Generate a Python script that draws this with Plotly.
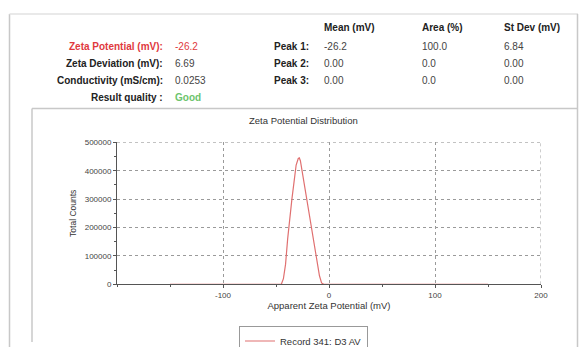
import plotly.graph_objects as go

W, H = 579, 347

# ---- data ----
zeta_mv = [-150, -45, -43, -41, -39, -37, -35, -33, -31, -29, -28, -27, -25, -23,
           -21, -19, -17, -15, -13, -11, -9, -7, -5, 150]
total_counts = [0, 0, 20000, 70000, 160000, 240000, 300000, 360000, 420000, 443000,
                445000, 435000, 390000, 345000, 300000, 260000, 220000, 175000,
                125000, 75000, 30000, 5000, 0, 0]
series_name = "Record 341: D3 AV"

summary_labels = ["Zeta Potential (mV):", "Zeta Deviation (mV):", "Conductivity (mS/cm):", "Result quality :"]
summary_values = ["-26.2", "6.69", "0.0253", "Good"]
peak_labels = ["Peak 1:", "Peak 2:", "Peak 3:"]
peak_columns = ["Mean (mV)", "Area (%)", "St Dev (mV)"]
peak_mean = ["-26.2", "0.00", "0.00"]
peak_area = ["100.0", "0.0", "0.0"]
peak_stdev = ["6.84", "0.00", "0.00"]

x_ticks = [-100, 0, 100, 200]
x_tick_labels = ["-100", "0", "100", "200"]
y_ticks = [0, 100000, 200000, 300000, 400000, 500000]
y_tick_labels = ["0", "100000", "200000", "300000", "400000", "500000"]


def px(x):
    return x / W


def py(y):
    return 1 - y / H


FONT = "Liberation Sans, Arial, sans-serif"
RED = "#e0393e"
LINE_RED = "#e07070"

fig = go.Figure()
fig.add_trace(go.Scatter(x=zeta_mv, y=total_counts, mode="lines", name=series_name,
                         line=dict(color=LINE_RED, width=1.2), showlegend=True))

ann = []


def note(x, y, text, anchor, size, color):
    ann.append(dict(x=px(x), y=py(y), xref="paper", yref="paper", text=text, xanchor=anchor,
                    yanchor="middle", showarrow=False, font=dict(size=size, color=color, family=FONT)))


HS = 10
label_y = [47, 63.5, 80, 97]
for i, (lab, val) in enumerate(zip(summary_labels, summary_values)):
    lcol = RED if i == 0 else "#222222"
    vcol = RED if i == 0 else ("#6cc46c" if i == 3 else "#444444")
    note(165, label_y[i], f"<b>{lab}</b>", "right", HS, lcol)
    note(173, label_y[i], f"<b>{val}</b>" if i == 3 else val, "left", HS, vcol)

col_x = [322, 420, 502]
for cx, ctext in zip(col_x, peak_columns):
    note(cx, 28, f"<b>{ctext}</b>", "left", HS, "#222222")
for i, plab in enumerate(peak_labels):
    note(272, label_y[i], f"<b>{plab}</b>", "left", HS, "#222222")
    for cx, vals in zip(col_x, [peak_mean, peak_area, peak_stdev]):
        note(cx, label_y[i], vals[i], "left", HS, "#444444")

note(303, 120, "Zeta Potential Distribution", "center", 9.5, "#333333")

border = "#c8c8c8"
shapes = [
    dict(type="line", xref="paper", yref="paper", x0=px(9.5), x1=px(9.5), y0=py(14), y1=py(347),
         line=dict(color=border, width=1.5)),
    dict(type="line", xref="paper", yref="paper", x0=px(9.5), x1=px(578), y0=py(14), y1=py(14),
         line=dict(color="#e2e2e2", width=1.5)),
    dict(type="line", xref="paper", yref="paper", x0=px(577.5), x1=px(577.5), y0=py(14), y1=py(347),
         line=dict(color=border, width=1.5)),
    dict(type="line", xref="paper", yref="paper", x0=px(32), x1=px(32), y0=py(108.5), y1=py(342),
         line=dict(color=border, width=1.5)),
    dict(type="line", xref="paper", yref="paper", x0=px(32), x1=px(577.5), y0=py(108.5), y1=py(108.5),
         line=dict(color=border, width=1.5)),
    dict(type="line", xref="x", yref="y", x0=-200, x1=200, y0=500000, y1=500000,
         line=dict(color="#9a9a9a", width=1, dash="dot")),
    dict(type="line", xref="x", yref="y", x0=200, x1=200, y0=0, y1=500000,
         line=dict(color="#9a9a9a", width=1, dash="dot")),
]

fig.update_layout(
    width=W, height=H,
    margin=dict(l=0, r=0, t=0, b=0, autoexpand=False),
    paper_bgcolor="white", plot_bgcolor="white",
    font=dict(family=FONT, size=8, color="#444444"),
    annotations=ann, shapes=shapes,
    xaxis=dict(domain=[px(117), px(541)], range=[-200, 200], tickvals=x_ticks, ticktext=x_tick_labels,
               showgrid=True, gridcolor="#9a9a9a", griddash="dot", gridwidth=1,
               showline=True, linecolor="#555555", linewidth=1, zeroline=False,
               ticks="outside", ticklen=3, tickcolor="#555555", automargin=False,
               minor=dict(dtick=50, tick0=0, ticks="outside", ticklen=2, tickcolor="#555555", showgrid=False),
               tickfont=dict(size=8, color="#444444"),
               title=dict(text="Apparent Zeta Potential (mV)", font=dict(size=9.5, color="#333333"), standoff=3)),
    yaxis=dict(domain=[py(284.3), py(142.3)], range=[0, 500000], tickvals=y_ticks, ticktext=y_tick_labels,
               showgrid=True, gridcolor="#9a9a9a", griddash="dot", gridwidth=1,
               showline=True, linecolor="#555555", linewidth=1, zeroline=False,
               ticks="outside", ticklen=3, tickcolor="#555555", automargin=False,
               minor=dict(dtick=50000, ticks="outside", ticklen=2, tickcolor="#555555", showgrid=False),
               tickfont=dict(size=8, color="#444444"),
               title=dict(text="Total Counts", font=dict(size=8.5, color="#333333"), standoff=6)),
    showlegend=True,
    legend=dict(x=px(239), y=py(341), xanchor="left", yanchor="middle", orientation="h",
                bordercolor="#999999", borderwidth=1, bgcolor="white",
                font=dict(size=9.5, color="#333333"), itemwidth=30,
                tracegroupgap=0),
)

fig.write_html("out.html", config={"displayModeBar": False},
               post_script="document.body.style.margin='0';document.body.style.overflow='hidden';")
